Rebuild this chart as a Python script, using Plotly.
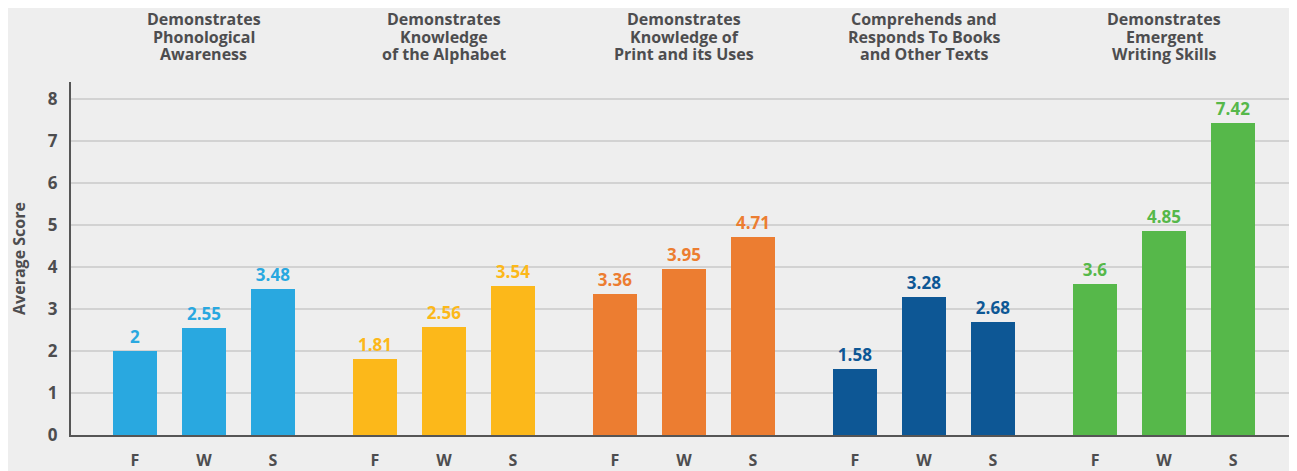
import plotly.graph_objects as go

group_titles = [
    ["Demonstrates", "Phonological", "Awareness"],
    ["Demonstrates", "Knowledge", "of the Alphabet"],
    ["Demonstrates", "Knowledge of", "Print and its Uses"],
    ["Comprehends and", "Responds To Books", "and Other Texts"],
    ["Demonstrates", "Emergent", "Writing Skills"],
]
seasons = ["F", "W", "S"]
values = [
    [2, 2.55, 3.48],
    [1.81, 2.56, 3.54],
    [3.36, 3.95, 4.71],
    [1.58, 3.28, 2.68],
    [3.6, 4.85, 7.42],
]
colors = ["#29a8e0", "#fcb81a", "#ec7d31", "#0d5795", "#56b84a"]
y_ticks = [0, 1, 2, 3, 4, 5, 6, 7, 8]

TXT = "#4d4d4f"
FONT = "Open Sans"
offset = 0.2875
bar_w = 0.183

# the page body has an 8px margin, so the figure is sized/offset to compensate
W, H = 1289, 463
M_L, M_T, M_B, M_R = 63, 74, 36, 0

fig = go.Figure()
tickvals, ticktext = [], []
for g, (vals, col) in enumerate(zip(values, colors)):
    xs = [g + (s - 1) * offset for s in range(len(seasons))]
    tickvals += xs
    ticktext += seasons
    fig.add_trace(go.Bar(
        x=xs, y=vals, width=bar_w, marker=dict(color=col, line=dict(width=0)),
        text=[f"{v:g}" for v in vals], textposition="outside",
        textfont=dict(family=FONT, size=17, color=col, weight="bold"),
        constraintext="none", cliponaxis=False, showlegend=False,
        hoverinfo="skip",
    ))

# group titles (one annotation per line)
plot_h = H - M_T - M_B
line_centers = [11.5, 28.5, 45.5]
for g, lines in enumerate(group_titles):
    for ln, yc in zip(lines, line_centers):
        fig.add_annotation(
            x=g, xref="x", y=1 + (M_T - yc) / plot_h, yref="paper",
            text=f"<b>{ln}</b>", showarrow=False, xanchor="center", yanchor="middle",
            font=dict(family=FONT, size=16, color=TXT),
        )

fig.update_layout(
    width=W, height=H,
    margin=dict(l=M_L, r=M_R, t=M_T, b=M_B, pad=0),
    paper_bgcolor="#eeeeee", plot_bgcolor="#eeeeee",
    bargap=0,
    xaxis=dict(
        range=[-0.554, 4.554], tickmode="array", tickvals=tickvals, ticktext=ticktext,
        showgrid=False, zeroline=False, showline=True, linecolor="#555555", linewidth=2,
        ticks="", ticklabelstandoff=10, automargin=False,
        tickfont=dict(family=FONT, size=16, color=TXT, weight="bold"),
        fixedrange=True,
    ),
    yaxis=dict(
        range=[0, 8.4], tickmode="array", tickvals=y_ticks,
        showgrid=True, gridcolor="#d2d2d2", gridwidth=1.5, zeroline=False,
        showline=True, linecolor="#555555", linewidth=2, ticks="", ticklabelstandoff=8,
        automargin=False,
        tickfont=dict(family=FONT, size=17, color=TXT, weight="bold"),
        title=dict(text="<b>Average Score</b>", standoff=29,
                   font=dict(family=FONT, size=16, color=TXT)),
        fixedrange=True,
    ),
)

fig.write_html("out.html")
